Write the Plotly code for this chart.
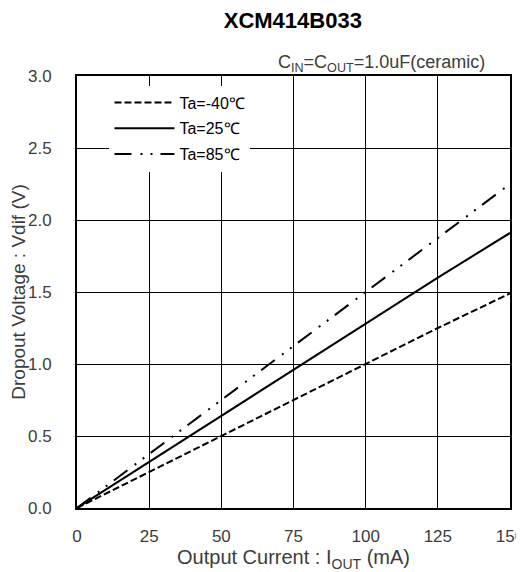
import plotly.graph_objects as go

current_ma = [0, 25, 50, 75, 100, 125, 150]
v_m40 = [0.0, 0.25, 0.50, 0.75, 1.00, 1.25, 1.49]
v_25 = [0.0, 0.32, 0.64, 0.96, 1.28, 1.60, 1.91]
v_85 = [0.0, 0.375, 0.75, 1.125, 1.50, 1.875, 2.25]

x_ticks = [0, 25, 50, 75, 100, 125, 150]
y_ticks = [0, 0.5, 1.0, 1.5, 2.0, 2.5, 3.0]

series = [
    ("Ta=-40℃", v_m40, "7px,3px"),
    ("Ta=25℃", v_25, "solid"),
    ("Ta=85℃", v_85, "17px,9px,2px,8px,2px,8px"),
]

FONT = "Liberation Sans, Arial, sans-serif"
TXT = "#3c3c3c"
fig = go.Figure()
for i, (name, vals, dash) in enumerate(series):
    fig.add_trace(go.Scatter(
        x=current_ma, y=vals, mode="lines", name=name,
        legendgroup=f"g{i}",
        line=dict(color="black", width=2, dash=dash),
    ))

fig.update_layout(
    width=516, height=564,
    margin=dict(l=69, r=14, t=68, b=64, autoexpand=False),
    paper_bgcolor="white", plot_bgcolor="white",
    font=dict(family=FONT, size=17, color=TXT),
    title=dict(text="<b>XCM414B033</b>", x=0.552, xanchor="center", y=0.978,
               yanchor="middle", font=dict(size=22, color="black")),
    showlegend=True,
    legend=dict(x=0.075, y=0.978, xanchor="left", yanchor="top",
                bgcolor="white", borderwidth=0, tracegroupgap=2,
                itemwidth=60, font=dict(size=16, color="black")),
    xaxis=dict(range=[0, 150], tickvals=x_ticks, automargin=False,
               ticklabeloverflow="allow",
               showgrid=True, gridcolor="black", gridwidth=1,
               showline=True, linecolor="black", linewidth=2, mirror=True,
               ticks="", zeroline=False, ticklabelstandoff=12,
               title=dict(text="Output Current : I<sub>OUT</sub> (mA)", standoff=2,
                          font=dict(size=20, color=TXT))),
    yaxis=dict(range=[0, 3.0], tickvals=y_ticks, automargin=False,
               tickformat=".1f",
               showgrid=True, gridcolor="black", gridwidth=1,
               showline=True, linecolor="black", linewidth=2, mirror=True,
               ticks="", zeroline=False, ticklabelstandoff=20,
               title=dict(text="Dropout Voltage : Vdif (V)", standoff=15,
                          font=dict(size=19, color=TXT))),
    annotations=[dict(text="C<sub>IN</sub>=C<sub>OUT</sub>=1.0uF(ceramic)",
                      xref="paper", yref="paper", x=0.947, y=1.0, xanchor="right",
                      yanchor="middle", yshift=13, showarrow=False,
                      font=dict(size=18, color=TXT))],
)

fig.write_html("out.html")
